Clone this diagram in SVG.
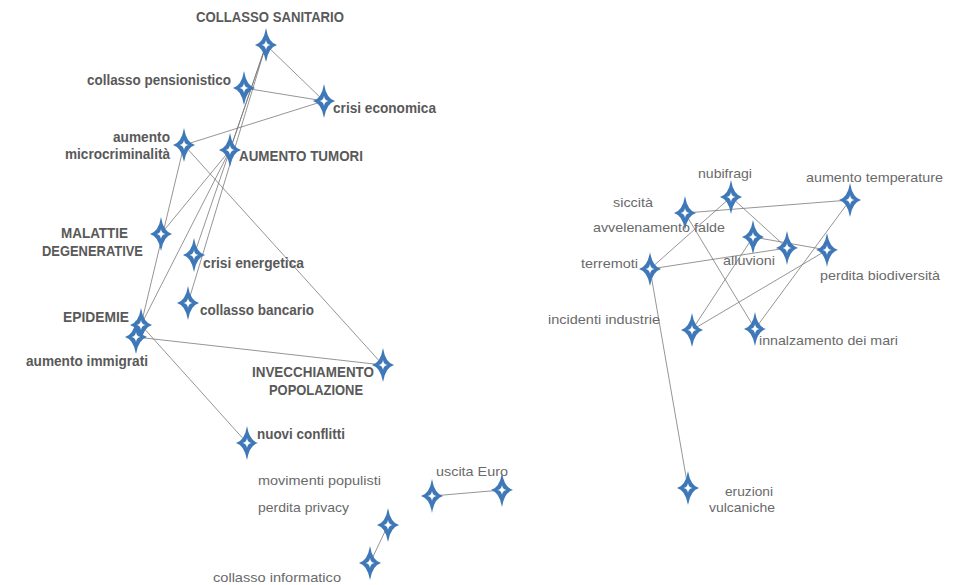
<svg xmlns="http://www.w3.org/2000/svg" xmlns:xlink="http://www.w3.org/1999/xlink" width="965" height="585" viewBox="0 0 965 585">
<style>
.b{font-family:"Liberation Sans",Arial,sans-serif;font-weight:bold;font-size:14px;fill:#595959}
.r{font-family:"Liberation Sans",Arial,sans-serif;font-size:13.5px;fill:#6a6a6a}
.c line{stroke:#7a7a7a;stroke-width:0.8}
</style>
<defs>
<g id="star">
<path d="M0,-17 Q2.4,-2.4 11,0 Q2.4,2.4 0,17 Q-2.4,2.4 -11,0 Q-2.4,-2.4 0,-17Z" fill="#3f78b8"/>
<path d="M0,-5 Q0.6,-0.6 4.5,0 Q0.6,0.6 0,5 Q-0.6,0.6 -4.5,0 Q-0.6,-0.6 0,-5Z" fill="#ffffff"/>
</g>
</defs>
<rect width="965" height="585" fill="#ffffff"/>
<g class="c" id="connectors">
<line x1="266" y1="45" x2="324" y2="101"/>
<line x1="266" y1="45" x2="230" y2="150"/>
<line x1="266" y1="45" x2="194" y2="255"/>
<line x1="266" y1="45" x2="188" y2="303"/>
<line x1="244" y1="88" x2="324" y2="101"/>
<line x1="324" y1="101" x2="184" y2="145"/>
<line x1="184" y1="145" x2="141" y2="325"/>
<line x1="184" y1="145" x2="383" y2="365"/>
<line x1="230" y1="150" x2="161" y2="234"/>
<line x1="230" y1="150" x2="141" y2="325"/>
<line x1="136" y1="337" x2="383" y2="365"/>
<line x1="141" y1="325" x2="247" y2="443"/>
<line x1="141" y1="325" x2="136" y2="337"/>
<line x1="432" y1="496" x2="502" y2="490"/>
<line x1="388" y1="525" x2="370" y2="563"/>
<line x1="685" y1="213" x2="850" y2="200"/>
<line x1="731" y1="197" x2="650" y2="269"/>
<line x1="731" y1="197" x2="787" y2="248"/>
<line x1="685" y1="213" x2="755" y2="329"/>
<line x1="753" y1="237" x2="827" y2="250"/>
<line x1="650" y1="269" x2="787" y2="248"/>
<line x1="753" y1="237" x2="692" y2="330"/>
<line x1="827" y1="250" x2="692" y2="330"/>
<line x1="850" y1="200" x2="755" y2="329"/>
<line x1="650" y1="269" x2="688" y2="488"/>
</g>
<g id="collasso-sanitario"><use xlink:href="#star" x="266" y="45"/><text class="b" x="196" y="22" textLength="148" lengthAdjust="spacingAndGlyphs">COLLASSO SANITARIO</text></g>
<g id="collasso-pensionistico"><use xlink:href="#star" x="244" y="88"/><text class="b" x="87" y="85" textLength="144" lengthAdjust="spacingAndGlyphs">collasso pensionistico</text></g>
<g id="crisi-economica"><use xlink:href="#star" x="324" y="101"/><text class="b" x="333" y="113" textLength="103" lengthAdjust="spacingAndGlyphs">crisi economica</text></g>
<g id="aumento-microcriminalita"><use xlink:href="#star" x="184" y="145"/><text class="b" x="113" y="142" textLength="57" lengthAdjust="spacingAndGlyphs">aumento</text><text class="b" x="65" y="159" textLength="105" lengthAdjust="spacingAndGlyphs">microcriminalità</text></g>
<g id="aumento-tumori"><use xlink:href="#star" x="230" y="150"/><text class="b" x="239" y="161" textLength="124" lengthAdjust="spacingAndGlyphs">AUMENTO TUMORI</text></g>
<g id="malattie-degenerative"><use xlink:href="#star" x="161" y="234"/><text class="b" x="61" y="238" textLength="67" lengthAdjust="spacingAndGlyphs">MALATTIE</text><text class="b" x="42" y="256" textLength="101" lengthAdjust="spacingAndGlyphs">DEGENERATIVE</text></g>
<g id="crisi-energetica"><use xlink:href="#star" x="194" y="255"/><text class="b" x="203" y="268" textLength="101" lengthAdjust="spacingAndGlyphs">crisi energetica</text></g>
<g id="collasso-bancario"><use xlink:href="#star" x="188" y="303"/><text class="b" x="200" y="315" textLength="114" lengthAdjust="spacingAndGlyphs">collasso bancario</text></g>
<g id="epidemie"><use xlink:href="#star" x="141" y="325"/><text class="b" x="63" y="322" textLength="66" lengthAdjust="spacingAndGlyphs">EPIDEMIE</text></g>
<g id="aumento-immigrati"><use xlink:href="#star" x="136" y="337"/><text class="b" x="26" y="366" textLength="122" lengthAdjust="spacingAndGlyphs">aumento immigrati</text></g>
<g id="invecchiamento-popolazione"><use xlink:href="#star" x="383" y="365"/><text class="b" x="252" y="377" textLength="122" lengthAdjust="spacingAndGlyphs">INVECCHIAMENTO</text><text class="b" x="269" y="395" textLength="94" lengthAdjust="spacingAndGlyphs">POPOLAZIONE</text></g>
<g id="nuovi-conflitti"><use xlink:href="#star" x="247" y="443"/><text class="b" x="257" y="439" textLength="88" lengthAdjust="spacingAndGlyphs">nuovi conflitti</text></g>
<g id="movimenti-populisti"><use xlink:href="#star" x="432" y="496"/><text class="r" x="258" y="485" textLength="123" lengthAdjust="spacingAndGlyphs">movimenti populisti</text></g>
<g id="uscita-euro"><use xlink:href="#star" x="502" y="490"/><text class="r" x="436" y="476" textLength="72" lengthAdjust="spacingAndGlyphs">uscita Euro</text></g>
<g id="perdita-privacy"><use xlink:href="#star" x="388" y="525"/><text class="r" x="258" y="512" textLength="91" lengthAdjust="spacingAndGlyphs">perdita privacy</text></g>
<g id="collasso-informatico"><use xlink:href="#star" x="370" y="563"/><text class="r" x="213" y="582" textLength="128" lengthAdjust="spacingAndGlyphs">collasso informatico</text></g>
<g id="nubifragi"><use xlink:href="#star" x="731" y="197"/><text class="r" x="698" y="178" textLength="54" lengthAdjust="spacingAndGlyphs">nubifragi</text></g>
<g id="aumento-temperature"><use xlink:href="#star" x="850" y="200"/><text class="r" x="806" y="182" textLength="137" lengthAdjust="spacingAndGlyphs">aumento temperature</text></g>
<g id="siccita"><use xlink:href="#star" x="685" y="213"/><text class="r" x="613" y="207" textLength="40" lengthAdjust="spacingAndGlyphs">siccità</text></g>
<g id="avvelenamento-falde"><use xlink:href="#star" x="753" y="237"/><text class="r" x="593" y="232" textLength="132" lengthAdjust="spacingAndGlyphs">avvelenamento falde</text></g>
<g id="alluvioni"><use xlink:href="#star" x="787" y="248"/><text class="r" x="723" y="265" textLength="52" lengthAdjust="spacingAndGlyphs">alluvioni</text></g>
<g id="perdita-biodiversita"><use xlink:href="#star" x="827" y="250"/><text class="r" x="820" y="280" textLength="120" lengthAdjust="spacingAndGlyphs">perdita biodiversità</text></g>
<g id="terremoti"><use xlink:href="#star" x="650" y="269"/><text class="r" x="581" y="268" textLength="57" lengthAdjust="spacingAndGlyphs">terremoti</text></g>
<g id="incidenti-industrie"><use xlink:href="#star" x="692" y="330"/><text class="r" x="548" y="324" textLength="112" lengthAdjust="spacingAndGlyphs">incidenti industrie</text></g>
<g id="innalzamento-dei-mari"><use xlink:href="#star" x="755" y="329"/><text class="r" x="759" y="345" textLength="139" lengthAdjust="spacingAndGlyphs">innalzamento dei mari</text></g>
<g id="eruzioni-vulcaniche"><use xlink:href="#star" x="688" y="488"/><text class="r" x="725" y="496" textLength="48" lengthAdjust="spacingAndGlyphs">eruzioni</text><text class="r" x="709" y="512" textLength="66" lengthAdjust="spacingAndGlyphs">vulcaniche</text></g>
</svg>
